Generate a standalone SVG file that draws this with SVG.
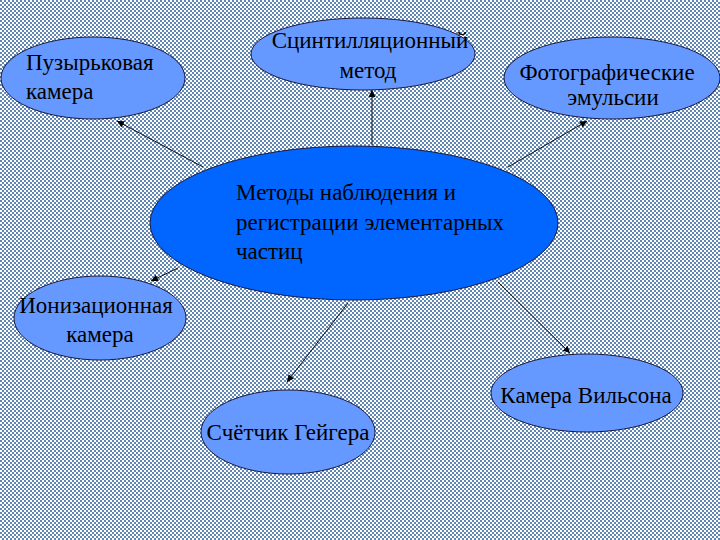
<svg xmlns="http://www.w3.org/2000/svg" width="720" height="540" viewBox="0 0 720 540">
<defs>
<pattern id="bg" x="0" y="0" width="4" height="4" patternUnits="userSpaceOnUse">
<rect width="4" height="4" fill="#ffffff"/>
<rect x="0" y="0" width="2" height="2" fill="#6287b2"/>
<rect x="2" y="2" width="2" height="2" fill="#6287b2"/>
</pattern>
<marker id="ah" viewBox="0 0 10 10" refX="10" refY="5" markerWidth="7" markerHeight="7" orient="auto" markerUnits="userSpaceOnUse">
<path d="M0,0 L10,5 L0,10 z" fill="#000"/>
</marker>
<style>
.node{fill:#6699ff;stroke:#1a1a40;stroke-width:1}
.main{fill:#0066ff;stroke:#1a1a40;stroke-width:1}
.t{font-family:"Liberation Serif","Times New Roman",serif;font-size:23px;fill:#000}
.c{stroke:#111;stroke-width:1;fill:none;marker-end:url(#ah)}
</style>
</defs>
<rect width="720" height="540" fill="url(#bg)"/>
<g id="connectors">
<line class="c" x1="203" y1="167" x2="117" y2="121"/>
<line class="c" x1="372" y1="145" x2="372" y2="90"/>
<line class="c" x1="508" y1="167" x2="587" y2="121"/>
<line class="c" x1="178" y1="268" x2="151" y2="281"/>
<line class="c" x1="348" y1="303" x2="287" y2="382"/>
<line class="c" x1="498" y1="282" x2="570" y2="353"/>
</g>
<g id="center">
<ellipse class="main" cx="354" cy="223" rx="204" ry="77"/>
<text class="t" x="236" y="200">Методы наблюдения и</text>
<text class="t" x="236" y="230">регистрации элементарных</text>
<text class="t" x="236" y="259">частиц</text>
</g>
<g id="bubble">
<ellipse class="node" cx="93" cy="78" rx="92" ry="41"/>
<text class="t" x="26" y="70">Пузырьковая</text>
<text class="t" x="26" y="99">камера</text>
</g>
<g id="scint">
<ellipse class="node" cx="363" cy="54" rx="112" ry="36"/>
<text class="t" x="370" y="48" text-anchor="middle">Сцинтилляционный</text>
<text class="t" x="368" y="78" text-anchor="middle">метод</text>
</g>
<g id="photo">
<ellipse class="node" cx="612" cy="78" rx="108" ry="41"/>
<text class="t" x="607" y="80" text-anchor="middle">Фотографические</text>
<text class="t" x="613" y="105" text-anchor="middle">эмульсии</text>
</g>
<g id="ion">
<ellipse class="node" cx="100" cy="318" rx="86" ry="42"/>
<text class="t" x="96" y="313" text-anchor="middle">Ионизационная</text>
<text class="t" x="100" y="342" text-anchor="middle">камера</text>
</g>
<g id="geiger">
<ellipse class="node" cx="288" cy="432" rx="87" ry="42"/>
<text class="t" x="288" y="440" text-anchor="middle">Счётчик Гейгера</text>
</g>
<g id="wilson">
<ellipse class="node" cx="587" cy="393" rx="96" ry="39"/>
<text class="t" x="586" y="403" text-anchor="middle">Камера Вильсона</text>
</g>
</svg>
